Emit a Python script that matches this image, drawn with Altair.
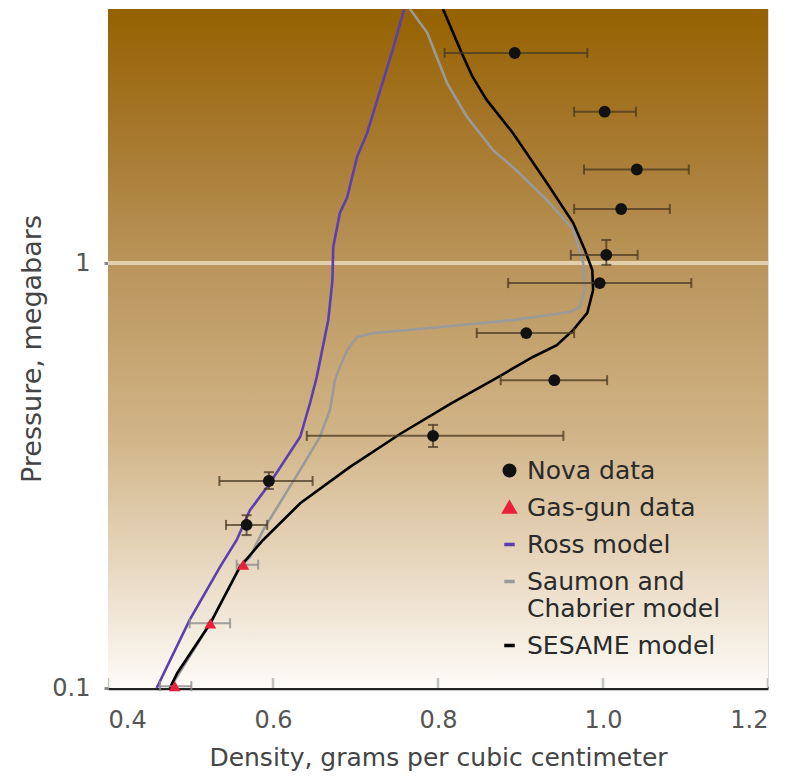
import altair as alt
import pandas as pd

# ---------------- data ----------------
nova_density = [0.893, 1.002, 1.041, 1.022, 1.004, 0.996, 0.907, 0.941, 0.794, 0.595, 0.568]
nova_pressure = [3.12, 2.27, 1.66, 1.34, 1.045, 0.897, 0.684, 0.530, 0.392, 0.307, 0.242]
nova_dens_lo = [0.808, 0.965, 0.977, 0.965, 0.961, 0.885, 0.847, 0.876, 0.641, 0.535, 0.543]
nova_dens_hi = [0.981, 1.040, 1.104, 1.081, 1.042, 1.107, 0.965, 1.005, 0.952, 0.648, 0.593]

# vertical error bars (only some Nova points show them)
nova_perr_density = [1.004, 0.794, 0.595, 0.568]
nova_perr_lo = [0.99, 0.369, 0.294, 0.229]
nova_perr_hi = [1.133, 0.416, 0.322, 0.255]

gas_density = [0.564, 0.524, 0.481]
gas_pressure = [0.195, 0.142, 0.101]
gas_dens_lo = [0.556, 0.499, 0.463]
gas_dens_hi = [0.582, 0.548, 0.501]

ross_density = [0.459, 0.499, 0.536, 0.556, 0.572, 0.593, 0.612, 0.633, 0.645, 0.653,
                0.667, 0.672, 0.673, 0.681, 0.690, 0.702, 0.714, 0.730, 0.745, 0.759]
ross_pressure = [0.100, 0.1446, 0.193, 0.223, 0.262, 0.297, 0.338, 0.390, 0.469, 0.539,
                 0.734, 0.910, 1.09, 1.31, 1.43, 1.78, 2.02, 2.55, 3.17, 3.96]

saumon_density = [0.475, 0.524, 0.560, 0.572, 0.588, 0.608, 0.633, 0.657, 0.669, 0.675,
                  0.681, 0.690, 0.702, 0.721, 0.790, 0.891, 0.960, 0.972, 0.978, 0.976,
                  0.964, 0.932, 0.891, 0.867, 0.835, 0.811, 0.787, 0.766]
saumon_pressure = [0.100, 0.142, 0.193, 0.203, 0.235, 0.272, 0.326, 0.390, 0.451, 0.530,
                   0.569, 0.624, 0.670, 0.684, 0.703, 0.734, 0.767, 0.788, 0.864, 1.00,
                   1.196, 1.407, 1.68, 1.84, 2.21, 2.65, 3.48, 3.96]

sesame_density = [0.475, 0.484, 0.524, 0.560, 0.588, 0.633, 0.693, 0.754, 0.815, 0.875,
                  0.915, 0.944, 0.964, 0.981, 0.988, 0.987, 0.978, 0.964, 0.932, 0.891,
                  0.859, 0.842, 0.830, 0.806]
sesame_pressure = [0.100, 0.1085, 0.142, 0.193, 0.223, 0.272, 0.331, 0.396, 0.466, 0.542,
                   0.601, 0.641, 0.696, 0.763, 0.864, 0.963, 1.073, 1.242, 1.543, 2.02,
                   2.42, 2.74, 3.08, 3.96]

series_names = ["Nova data", "Gas-gun data", "Ross model", "Saumon and Chabrier model", "SESAME model"]
series_colors = ["#111111", "#e8203a", "#5b3fb0", "#9a9a9a", "#000000"]
series_shapes = ["circle", "triangle-up", "stroke", "stroke", "stroke"]

x_ticks = [0.4, 0.6, 0.8, 1.0, 1.2]
y_ticks = [0.1, 1]
x_domain = [0.4, 1.2]
y_domain = [0.1, 3.96]

# ---------------- tables ----------------
nova = pd.DataFrame({"density": nova_density, "pressure": nova_pressure,
                     "lo": nova_dens_lo, "hi": nova_dens_hi, "series": "Nova data"})
nova_perr = pd.DataFrame({"density": nova_perr_density, "plo": nova_perr_lo, "phi": nova_perr_hi})
gas = pd.DataFrame({"density": gas_density, "pressure": gas_pressure,
                    "lo": gas_dens_lo, "hi": gas_dens_hi, "series": "Gas-gun data"})
points = pd.concat([nova, gas], ignore_index=True)

def curve(name, d, p):
    return pd.DataFrame({"density": d, "pressure": p, "series": name, "order": list(range(len(d)))})

curves = pd.concat([
    curve("Ross model", ross_density, ross_pressure),
    curve("Saumon and Chabrier model", saumon_density, saumon_pressure),
    curve("SESAME model", sesame_density, sesame_pressure),
], ignore_index=True)

bg = pd.DataFrame({"x0": [x_domain[0]], "x1": [x_domain[1]], "y0": [y_domain[0]], "y1": [y_domain[1]]})
one = pd.DataFrame({"p": [1.0]})
xtick_df = pd.DataFrame({"t": x_ticks, "base": [y_domain[0]] * len(x_ticks)})

FONT = "DejaVu Sans"

xs = alt.Scale(domain=x_domain, nice=False, zero=False)
ys = alt.Scale(type="log", domain=y_domain, nice=False)

x_axis = alt.Axis(values=x_ticks, format=".1f", title="Density, grams per cubic centimeter",
                  grid=False, domainColor="#222222", domainWidth=3.5, ticks=False,
                  labelFontSize=24, labelColor="#555555",
                  labelPadding=20, titleFontSize=25, titleFontWeight="normal",
                  titleColor="#444444", titlePadding=13, labelFont=FONT, titleFont=FONT)
y_axis = alt.Axis(values=y_ticks, labelExpr="datum.value < 0.5 ? '0.1' : '1'",
                  title="Pressure, megabars", grid=False, domain=False,
                  tickColor="#888888", tickSize=4, tickWidth=3,
                  labelFontSize=24, labelColor="#555555", labelPadding=14,
                  titleFontSize=27, titleFontWeight="normal", titleColor="#444444",
                  titlePadding=5, labelFont=FONT, titleFont=FONT)

color_scale = alt.Scale(domain=series_names, range=series_colors)
shape_scale = alt.Scale(domain=series_names, range=series_shapes)

gradient = alt.Gradient(
    gradient="linear", x1=0, y1=0, x2=0, y2=1,
    stops=[
        alt.GradientStop(color="#956100", offset=0),
        alt.GradientStop(color="#a87a30", offset=0.2),
        alt.GradientStop(color="#ba955c", offset=0.38),
        alt.GradientStop(color="#d0b385", offset=0.62),
        alt.GradientStop(color="#e8d8c0", offset=0.82),
        alt.GradientStop(color="#fdfbf7", offset=1),
    ],
)

legend = alt.Legend(
    title=None, orient="none", legendX=389, legendY=449, padding=0,
    labelFontSize=25, labelColor="#2a2a2a", labelFont=FONT, labelOffset=5,
    labelLimit=320, rowPadding=11, symbolSize=110, symbolStrokeWidth=3.5,
    labelExpr="datum.label == 'Saumon and Chabrier model' ? ['Saumon and', 'Chabrier model'] : datum.label",
    symbolOpacity=1,
    symbolStrokeColor={"expr": "scale('color', datum.value)"},
    symbolFillColor={"expr": "scale('color', datum.value)"},
)

background = alt.Chart(bg).mark_rect(color=gradient).encode(
    x=alt.X("x0:Q", scale=xs, axis=x_axis),
    x2="x1:Q",
    y=alt.Y("y0:Q", scale=ys, axis=y_axis),
    y2="y1:Q",
)

xticks_layer = alt.Chart(xtick_df).mark_tick(
    color="#a8a8a8", orient="vertical", size=20, thickness=2.5, clip=True
).encode(x=alt.X("t:Q", scale=xs), y=alt.Y("base:Q", scale=ys))

hline = alt.Chart(one).mark_rule(color="#e2cfae", strokeWidth=4).encode(
    y=alt.Y("p:Q", scale=ys)
)

lines = alt.Chart(curves).mark_line(strokeWidth=2.6, clip=True).encode(
    x=alt.X("density:Q", scale=xs),
    y=alt.Y("pressure:Q", scale=ys),
    color=alt.Color("series:N", scale=color_scale, legend=legend),
    order="order:Q",
    detail="series:N",
)

nova_err = alt.Chart(nova).mark_rule(color="#4a3a22", strokeWidth=2, opacity=0.75).encode(
    x=alt.X("lo:Q", scale=xs), x2="hi:Q", y=alt.Y("pressure:Q", scale=ys))
nova_cap_lo = alt.Chart(nova).mark_tick(color="#4a3a22", orient="vertical", size=10, thickness=2, opacity=0.75).encode(
    x=alt.X("lo:Q", scale=xs), y=alt.Y("pressure:Q", scale=ys))
nova_cap_hi = alt.Chart(nova).mark_tick(color="#4a3a22", orient="vertical", size=10, thickness=2, opacity=0.75).encode(
    x=alt.X("hi:Q", scale=xs), y=alt.Y("pressure:Q", scale=ys))

nova_verr = alt.Chart(nova_perr).mark_rule(color="#4a3a22", strokeWidth=2, opacity=0.75).encode(
    x=alt.X("density:Q", scale=xs), y=alt.Y("plo:Q", scale=ys), y2="phi:Q")
nova_vcap_lo = alt.Chart(nova_perr).mark_tick(color="#4a3a22", orient="horizontal", size=10, thickness=2, opacity=0.75).encode(
    x=alt.X("density:Q", scale=xs), y=alt.Y("plo:Q", scale=ys))
nova_vcap_hi = alt.Chart(nova_perr).mark_tick(color="#4a3a22", orient="horizontal", size=10, thickness=2, opacity=0.75).encode(
    x=alt.X("density:Q", scale=xs), y=alt.Y("phi:Q", scale=ys))

gas_err = alt.Chart(gas).mark_rule(color="#8c8c8c", strokeWidth=2, opacity=0.8).encode(
    x=alt.X("lo:Q", scale=xs), x2="hi:Q", y=alt.Y("pressure:Q", scale=ys))
gas_cap_lo = alt.Chart(gas).mark_tick(color="#8c8c8c", orient="vertical", size=10, thickness=2, opacity=0.8).encode(
    x=alt.X("lo:Q", scale=xs), y=alt.Y("pressure:Q", scale=ys))
gas_cap_hi = alt.Chart(gas).mark_tick(color="#8c8c8c", orient="vertical", size=10, thickness=2, opacity=0.8).encode(
    x=alt.X("hi:Q", scale=xs), y=alt.Y("pressure:Q", scale=ys))

pts = alt.Chart(points).mark_point(filled=True, size=140, opacity=1).encode(
    x=alt.X("density:Q", scale=xs),
    y=alt.Y("pressure:Q", scale=ys),
    color=alt.Color("series:N", scale=color_scale, legend=legend),
    shape=alt.Shape("series:N", scale=shape_scale, legend=legend),
)

chart = alt.layer(
    background, xticks_layer, hline, lines,
    nova_err, nova_cap_lo, nova_cap_hi, nova_verr, nova_vcap_lo, nova_vcap_hi,
    gas_err, gas_cap_lo, gas_cap_hi, pts,
).properties(
    width=660, height=679,
    autosize=alt.AutoSizeParams(type="none"),
    padding={"left": 108, "top": 9, "right": 37, "bottom": 88},
).configure_view(stroke=None).configure(background="white")

chart.save("out.html", embed_options={"renderer": "svg", "actions": False})
